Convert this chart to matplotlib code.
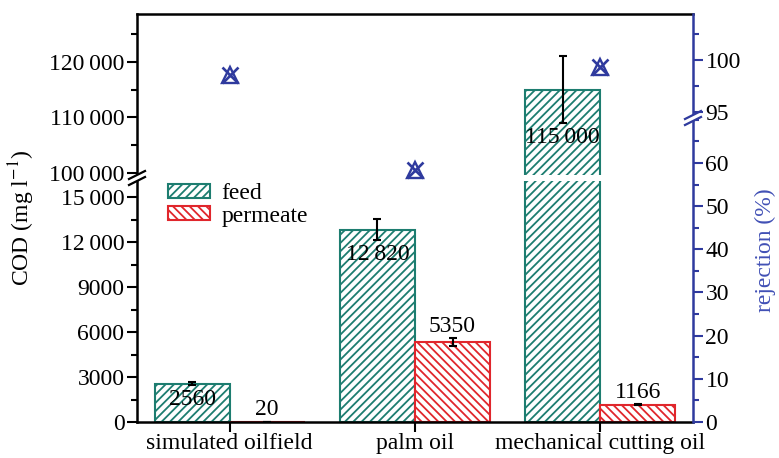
import numpy as np
import matplotlib
matplotlib.use("Agg")
import matplotlib.pyplot as plt
from matplotlib.lines import Line2D
from matplotlib.patches import Patch, Rectangle
from matplotlib.ticker import MultipleLocator, FuncFormatter

plt.rcParams['font.family'] = ['Liberation Serif', 'DejaVu Serif']
plt.rcParams['mathtext.fontset'] = 'stix'
plt.rcParams['hatch.linewidth'] = 1.3

# data
categories = ['simulated oilfield', 'palm oil', 'mechanical cutting oil']
feed = [2560, 12820, 115000]
feed_err = [100, 700, 6000]
permeate = [20, 5350, 1166]
permeate_err = [5, 250, 30]
rejection = [98.6, 58.4, 99.3]

TEAL = '#1d7d70'
RED = '#e0262c'
BLUE = '#2f3a9e'
FS = 17

W, H = 779, 458
fig = plt.figure(figsize=(W / 100, H / 100), dpi=100)


def box(left, right, top, bottom):
    return [left / W, 1 - bottom / H, (right - left) / W, (bottom - top) / H]


ax_lo = fig.add_axes(box(137, 693, 181, 422))
ax_hi = fig.add_axes(box(137, 693, 14, 175))
ax_rlo = fig.add_axes(box(137, 693, 118, 422))
ax_rhi = fig.add_axes(box(137, 693, 14, 118))

x = np.arange(len(categories))
bw = 0.405

for ax in (ax_lo, ax_hi):
    ax.bar(x - bw / 2, feed, bw, facecolor='white', edgecolor=TEAL,
           hatch='////', linewidth=1.5, zorder=2)
    ax.bar(x + bw / 2, permeate, bw, facecolor='white', edgecolor=RED,
           hatch='\\\\\\\\', linewidth=1.5, zorder=2)
    ax.errorbar(x - bw / 2, feed, yerr=feed_err, fmt='none', ecolor='black',
                elinewidth=1.5, capsize=3.2, capthick=1.5, zorder=3)
    ax.errorbar(x + bw / 2, permeate, yerr=permeate_err, fmt='none',
                ecolor='black', elinewidth=1.5, capsize=3.2, capthick=1.5,
                zorder=3)
    ax.set_xlim(-0.5, 2.5)
    ax.spines['right'].set_visible(False)
    ax.spines['left'].set_linewidth(1.8)
    ax.tick_params(axis='y', which='major', direction='out', length=7,
                   width=1.5, labelsize=FS, pad=2)
    ax.tick_params(axis='y', which='minor', direction='out', length=4,
                   width=1.5)

ax_lo.set_ylim(0, 16067)
ax_hi.set_ylim(99640, 128570)
ax_lo.spines['top'].set_visible(False)
ax_hi.spines['bottom'].set_visible(False)
ax_hi.spines['top'].set_linewidth(1.8)
ax_lo.spines['bottom'].set_linewidth(1.8)
ax_lo.yaxis.set_major_locator(MultipleLocator(3000))
ax_lo.yaxis.set_minor_locator(MultipleLocator(1500))
ax_hi.yaxis.set_major_locator(MultipleLocator(10000))
ax_hi.yaxis.set_minor_locator(MultipleLocator(5000))


def cod_fmt(v, pos):
    v = int(round(v))
    if v >= 10000:
        return f'{v // 1000}\u2009{v % 1000:03d}'
    return str(v)


ax_lo.yaxis.set_major_formatter(FuncFormatter(cod_fmt))
ax_hi.yaxis.set_major_formatter(FuncFormatter(cod_fmt))

ax_hi.set_xticks([])
ax_lo.set_xticks(x)
ax_lo.set_xticklabels(categories)
ax_lo.tick_params(axis='x', direction='out', length=7, width=1.5,
                  labelsize=FS, pad=1)

# value labels
for i in range(len(categories)):
    lbl = cod_fmt(feed[i], None)
    ax = ax_hi if feed[i] > 50000 else ax_lo
    ax.annotate(lbl, (x[i] - bw / 2, feed[i] - feed_err[i]),
                xytext=(0, -3), textcoords='offset points',
                ha='center', va='top', fontsize=FS, zorder=4)
    ax_lo.annotate(cod_fmt(permeate[i], None),
                   (x[i] + bw / 2, permeate[i] + permeate_err[i]),
                   xytext=(0, 1), textcoords='offset points',
                   ha='center', va='bottom', fontsize=FS, zorder=4)

fig.text(22 / W, 1 - 218 / H, 'COD (mg l$^{-1}$)', rotation=90,
         ha='center', va='center', fontsize=FS)

# rejection axes on the right
for ax in (ax_rlo, ax_rhi):
    ax.patch.set_visible(False)
    ax.set_xlim(-0.5, 2.5)
    ax.set_xticks([])
    for s in ('left', 'top', 'bottom'):
        ax.spines[s].set_visible(False)
    ax.spines['right'].set_color(BLUE)
    ax.spines['right'].set_linewidth(1.8)
    ax.yaxis.tick_right()
    ax.tick_params(axis='y', which='major', direction='out', length=7,
                   width=1.5, color=BLUE, labelsize=FS, labelcolor='black',
                   pad=2)
    ax.tick_params(axis='y', which='minor', direction='out', length=4,
                   width=1.5, color=BLUE)

ax_rlo.set_ylim(0, 70.4)
ax_rhi.set_ylim(94.42, 104.42)
ax_rlo.yaxis.set_minor_locator(MultipleLocator(5))
ax_rlo.set_yticks([0, 10, 20, 30, 40, 50, 60])
ax_rhi.yaxis.set_major_locator(MultipleLocator(5))
ax_rhi.yaxis.set_minor_locator(MultipleLocator(2.5))

for i, r in enumerate(rejection):
    ax = ax_rhi if r > 90 else ax_rlo
    ax.plot(x[i], r, marker='^', markersize=12, markerfacecolor='none',
            markeredgecolor=BLUE, markeredgewidth=1.7, clip_on=False)
    ax.plot(x[i], r, marker='x', markersize=12, color=BLUE,
            markeredgewidth=1.9, clip_on=False)

fig.text(765 / W, 1 - 250 / H, 'rejection (%)', rotation=90, ha='center',
         va='center', fontsize=FS, color='#4150b5')

# legend
handles = [Patch(facecolor='white', edgecolor=TEAL, hatch='////',
                 linewidth=1.5, label='feed'),
           Patch(facecolor='white', edgecolor=RED, hatch='\\\\\\\\',
                 linewidth=1.5, label='permeate')]
ax_lo.legend(handles=handles, loc='upper left', bbox_to_anchor=(0.056, 0.99),
             frameon=False, fontsize=FS, handlelength=1.76,
             handleheight=0.5, handletextpad=0.5, labelspacing=0.05,
             borderpad=0, borderaxespad=0)


# axis break marks
def brk(xc, yc, color):
    tr = fig.transFigure
    fig.add_artist(Rectangle(((xc - 3) / W, 1 - (yc + 3) / H), 6 / W, 6 / H,
                             transform=tr, facecolor='white',
                             edgecolor='none', zorder=5))
    for dy in (-3, 3):
        fig.add_artist(Line2D([(xc - 8) / W, (xc + 8) / W],
                              [1 - (yc + dy + 4) / H, 1 - (yc + dy - 4) / H],
                              transform=tr, color=color, linewidth=1.6,
                              zorder=6))


brk(137, 178, 'black')
brk(693, 118, BLUE)

fig.savefig('out.png', dpi=100)
